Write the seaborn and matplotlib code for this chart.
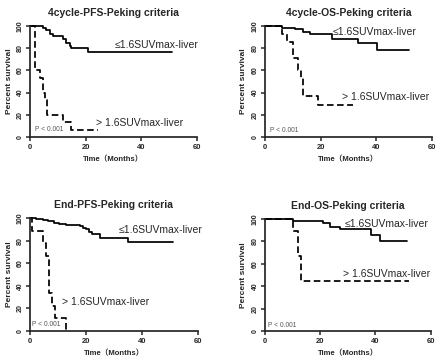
import matplotlib
matplotlib.use("Agg")
import matplotlib.pyplot as plt
import seaborn as sns
import pandas as pd

sns.set_style("ticks")
plt.rcParams['font.family'] = ['Liberation Sans', 'DejaVu Sans', 'Noto Sans CJK SC']

# ---------------- data ----------------
titles = ["4cycle-PFS-Peking criteria", "4cycle-OS-Peking criteria",
          "End-PFS-Peking criteria", "End-OS-Peking criteria"]
low_label = "≤1.6SUVmax-liver"
high_label = "> 1.6SUVmax-liver"
p_label = "P < 0.001"
x_ticks = [0, 20, 40, 60]
y_ticks = [0, 20, 40, 60, 80, 100]

# panel 1: 4cycle PFS
p1_low_t = [0, 4.7, 5.9, 7.1, 8.3, 11.9, 13.0, 14.3, 14.8, 20.9, 51]
p1_low_s = [100, 98, 96, 93, 91, 88, 85, 82, 80, 77, 77]
p1_high_t = [0, 1.9, 3.8, 4.7, 5.5, 6.2, 11.9, 14.8, 24.5]
p1_high_s = [100, 60, 53.3, 40, 33.3, 20, 13.3, 6.7, 6.7]

# panel 2: 4cycle OS
p2_low_t = [0, 6.2, 10.8, 13.8, 16.2, 24, 33.3, 40.3, 51.6]
p2_low_s = [100, 98.5, 97, 95, 93, 88, 85, 78, 78]
p2_high_t = [0, 6, 7.8, 10, 12, 13, 13.8, 19.2, 31.8]
p2_high_s = [100, 92.9, 85.7, 71.4, 60, 53, 37, 28.6, 28.6]

# panel 3: End PFS
p3_low_t = [0, 2, 4.5, 6.5, 8.5, 10.5, 13, 18, 19, 20, 21, 22, 25, 35, 51]
p3_low_s = [100, 99, 98, 97, 96, 95, 94, 93, 91, 90, 88, 86, 82, 79, 79]
p3_high_t = [0, 0.7, 4.7, 5.9, 6.8, 7.9, 9.0, 13.0]
p3_high_s = [100, 88.9, 77.8, 66.7, 33.3, 22.2, 11.1, 0]

# panel 4: End OS
p4_low_t = [0, 10.2, 21, 23.5, 27, 38.5, 41.5, 51.5]
p4_low_s = [100, 98.5, 96.5, 93, 91, 86, 80, 80]
p4_high_t = [0, 10, 12, 13, 52]
p4_high_s = [100, 88.9, 66.7, 44.4, 44.4]

panels = [
    (p1_low_t, p1_low_s, p1_high_t, p1_high_s),
    (p2_low_t, p2_low_s, p2_high_t, p2_high_s),
    (p3_low_t, p3_low_s, p3_high_t, p3_high_s),
    (p4_low_t, p4_low_s, p4_high_t, p4_high_s),
]

# label positions (data coords) : low label, high label, p label
label_pos = [
    ((30.5, 83), (23.9, 12.5), (1.8, 6.5)),
    ((24.4, 94.6), (27.6, 36.4), (1.8, 5.7)),
    ((31.6, 89.3), (11.3, 26), (0.8, 6)),
    ((29.0, 95.5), (28.4, 51), (1.2, 5.3)),
]

axes_rects = [
    [0.068, 0.6215, 0.3795, 0.3066],
    [0.602, 0.6215, 0.380, 0.3066],
    [0.068, 0.0856, 0.3818, 0.3122],
    [0.602, 0.0856, 0.377, 0.3094],
]

fig = plt.figure(figsize=(4.4, 3.62), dpi=100)

for i, (lt, ls, ht, hs) in enumerate(panels):
    ax = fig.add_axes(axes_rects[i])
    df = pd.concat([
        pd.DataFrame({"time": lt, "surv": ls, "group": "low"}),
        pd.DataFrame({"time": ht, "surv": hs, "group": "high"}),
    ], ignore_index=True)
    sns.lineplot(data=df, x="time", y="surv", style="group",
                 dashes={"low": "", "high": (3.8, 2.0)}, color="black",
                 estimator=None, sort=False, drawstyle="steps-post",
                 linewidth=1.25, legend=False, clip_on=False, ax=ax)
    ax.set_xlim(0, 60)
    ax.set_ylim(0, 100)
    ax.set_xticks(x_ticks)
    ax.set_yticks(y_ticks)
    ax.set_xticklabels([str(v) for v in x_ticks], fontsize=5.5, fontweight="bold")
    ax.set_yticklabels([str(v) for v in y_ticks], fontsize=5, fontweight="bold",
                       rotation=90, va="center")
    ax.tick_params(axis="both", length=3, width=1.1, direction="out")
    ax.tick_params(axis="x", pad=2.0)
    ax.tick_params(axis="y", pad=1.5)
    for s in ["left", "bottom"]:
        ax.spines[s].set_linewidth(1.25)
    sns.despine(ax=ax)
    ax.set_xlabel("Time（Months）", fontsize=5.5, fontweight="bold", labelpad=3.5,
                  family=['Liberation Sans', 'Noto Sans CJK SC'])
    ax.set_ylabel("Percent survival", fontsize=6, fontweight="bold", labelpad=3)
    ax.set_title(titles[i], fontsize=7.5, fontweight="bold", pad=7.5)
    (lx, ly), (hx, hy), (px, py) = label_pos[i]
    ax.text(lx, ly, low_label, fontsize=7.5, va="center", ha="left")
    ax.text(hx, hy, high_label, fontsize=7.5, va="center", ha="left")
    ax.text(px, py, p_label, fontsize=4.8, va="center", ha="left", color="#555555")

fig.savefig("out.png", dpi=100)
